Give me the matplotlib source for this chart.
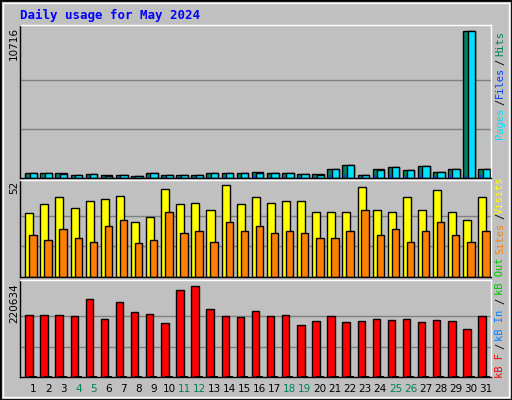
import numpy as np
import matplotlib
matplotlib.use("Agg")
import matplotlib.pyplot as plt
from matplotlib.patches import Rectangle
from matplotlib.transforms import blended_transform_factory

days = np.arange(1, 32)
weekend = [4, 5, 11, 12, 18, 19, 25, 26]

# values
hits = [388, 388, 388, 242, 315, 242, 242, 170, 388, 242, 242, 242, 388, 388, 388, 460, 388, 388, 315, 315,
        679, 970, 242, 679, 824, 606, 897, 460, 679, 10716, 679]
files = [388, 388, 315, 242, 315, 170, 242, 170, 388, 242, 242, 242, 388, 388, 388, 388, 388, 388, 315, 242,
         679, 970, 242, 606, 824, 606, 897, 460, 679, 10716, 679]
pages = [100, 100, 100, 80, 90, 80, 70, 60, 100, 80, 80, 80, 100, 100, 100, 110, 100, 100, 90, 90,
         200, 230, 70, 200, 210, 180, 220, 120, 190, 150, 200]
visits = [36, 41, 45, 39, 43, 44, 46, 31, 34, 50, 41, 42, 38, 52, 41, 45, 42, 43, 43, 37,
          37, 37, 51, 38, 37, 45, 38, 49, 37, 32, 45]
sites = [24, 21, 27, 22, 20, 29, 32, 19, 21, 37, 25, 26, 20, 31, 26, 29, 25, 26, 25, 22,
         22, 26, 38, 24, 27, 20, 26, 31, 24, 20, 26]
kbytes = [150000, 150000, 150000, 147500, 189000, 140000, 182000, 157500, 152500, 130000, 211000, 220634,
          165000, 147500, 145000, 160000, 147500, 150000, 125000, 135000, 147500, 132500, 135000, 140000,
          137500, 140000, 132500, 137500, 135000, 117500, 147500]
kb_small = [2500] * 31

W, H = 512, 400
BG = "#c0c0c0"
fig = plt.figure(figsize=(W / 100, H / 100), dpi=100)
fig.patch.set_facecolor(BG)

def ax_px(x0, y0, x1, y1):
    return fig.add_axes([x0 / W, 1 - y1 / H, (x1 - x0) / W, (y1 - y0) / H])

# outer bevel
fig.add_artist(Rectangle((0, 0), 1, 1, transform=fig.transFigure, fill=False, ec="black", lw=2))
fig.add_artist(Rectangle((3 / W, 3 / H), 1 - 6 / W, 1 - 6 / H, transform=fig.transFigure,
                         fill=False, ec="white", lw=1))

fig.text(20 / W, 1 - 15 / H, "Daily usage for May 2024", color="#0000ff", fontsize=9,
         family="DejaVu Sans Mono", weight="bold", va="center")

XL = (0.14, 31.33)

def setup(ax, top_px, bot_px, vmax, lines):
    ax.set_facecolor(BG)
    ax.set_xlim(*XL)
    span = (bot_px - top_px)
    ax.set_ylim(0, vmax * span / lines)
    for f in (1 / 3, 2 / 3):
        ax.axhline(vmax * f, color="#808080", lw=1, zorder=0)
    ax.set_xticks([]); ax.set_yticks([])
    for s in ax.spines.values():
        s.set_color("black"); s.set_linewidth(1)
    ax.spines["top"].set_color("white"); ax.spines["right"].set_color("white")

bk = dict(edgecolor="black", linewidth=1, align="edge")

# panel 1
ax1 = ax_px(20, 25, 491, 178)
setup(ax1, 25, 178, 10716, 147)
ax1.bar(days - 0.51, hits, width=0.77, color="#00805c", **bk)
ax1.bar(days - 0.22, files, width=0.48, color="#00e0ff", **bk)
ax1.bar(days - 0.42, pages, width=0.14, color="#0040ff", linewidth=0, align="edge")

# panel 2
ax2 = ax_px(20, 180, 491, 277)
setup(ax2, 180, 277, 52, 92)
ax2.bar(days - 0.51, visits, width=0.53, color="#ffff00", **bk)
ax2.bar(days - 0.25, sites, width=0.49, color="#ff8000", **bk)

# panel 3
ax3 = ax_px(20, 280, 491, 377)
setup(ax3, 280, 377, 220634, 91)
ax3.bar(days - 0.51, kbytes, width=0.49, color="#ff0000", **bk)
ax3.bar(days - 0.25, kb_small, width=0.49, color="#000000", linewidth=0, align="edge")

tr = blended_transform_factory(ax3.transData, fig.transFigure)
for d in days:
    fig.text(d, 1 - 389 / H, str(d), transform=tr, ha="center", va="center",
             fontsize=7.5, color="#00805c" if d in weekend else "black")

# max value labels
for txt, y in [("10716", 27), ("52", 181), ("220634", 283)]:
    fig.text(14 / W, 1 - y / H, txt, rotation=90, ha="center", va="top", fontsize=7.5)

# right-hand legends
leg = [("Pages", "#00e0ff", 123), ("/", "black", 102), ("Files", "#0040ff", 82), ("/", "black", 62),
       ("Hits", "#00805c", 44),
       ("Visits", "#ffff00", 195), ("/", "black", 216), ("Sites", "#ff8000", 238),
       ("kB Out", "#00c000", 276), ("/", "black", 301), ("kB In", "#0080ff", 325), ("/", "black", 346),
       ("kB F", "#ff0000", 366)]
for txt, c, y in leg:
    fig.text(500 / W, 1 - y / H, txt, rotation=90, ha="center", va="center", fontsize=7.5,
             color=c, family="DejaVu Sans Mono")

fig.savefig("out.png", dpi=100, facecolor=BG)
